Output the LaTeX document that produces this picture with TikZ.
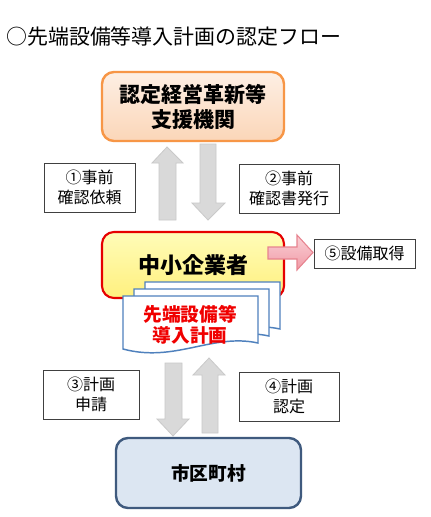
\documentclass[tikz,border=0pt]{standalone}
\usepackage{fontspec}
\setmainfont{Noto Sans CJK JP}
\definecolor{orB}{HTML}{F79646}
\definecolor{orT}{HTML}{FDEFE4}
\definecolor{orD}{HTML}{FBD6B8}
\definecolor{rdB}{HTML}{E60000}
\definecolor{ywT}{HTML}{FFFCB8}
\definecolor{ywD}{HTML}{FFF07E}
\definecolor{dcB}{HTML}{4F81BD}
\definecolor{ctB}{HTML}{3F5A7E}
\definecolor{ctF}{HTML}{DCE6F2}
\definecolor{arF}{HTML}{D9D9D9}
\definecolor{arB}{HTML}{C9C9C9}
\definecolor{pkT}{HTML}{FAD0D6}
\definecolor{pkD}{HTML}{F09AA6}
\definecolor{pkB}{HTML}{E7838F}
\definecolor{lbB}{HTML}{404040}
\definecolor{txR}{HTML}{F00000}
\begin{document}
\begin{tikzpicture}[x=0.75pt,y=-0.75pt,
  bigbox/.style={rounded corners=9pt,inner sep=0pt,align=center,font=\bfseries\fontsize{15.75}{18.75}\selectfont},
  lbl/.style={draw=lbB,line width=0.75pt,fill=white,inner sep=0pt,align=center,font=\fontsize{12}{15}\selectfont},
  grayarrow/.style={fill=arF,draw=arB,line width=0.6pt},
  docpage/.style={fill=white,draw=dcB,line width=1.1pt}]
\useasboundingbox (0,0) rectangle (430,517);
\fill[white] (0,0) rectangle (430,517);
% title
\node[anchor=west,inner sep=0pt,font=\fontsize{15.7}{18}\selectfont] (title) at (6,37) {○先端設備等導入計画の認定フロー};
% gray arrows upper
\draw[grayarrow] (167,147) -- (183,163) -- (176,163) -- (176,220) -- (159,220) -- (159,163) -- (152,163) -- cycle;
\draw[grayarrow] (208,220) -- (225,203) -- (216,203) -- (216,144) -- (200,144) -- (200,203) -- (192,203) -- cycle;
% gray arrows lower
\draw[grayarrow] (173,436) -- (189,419) -- (182,419) -- (182,363) -- (165,363) -- (165,419) -- (157,419) -- cycle;
\draw[grayarrow] (209,358) -- (225,375) -- (218,375) -- (218,433) -- (202,433) -- (202,375) -- (193,375) -- cycle;
% top box
\node[bigbox,draw=orB,line width=1.8pt,top color=orT,bottom color=orD,minimum width=136.5pt,minimum height=51.75pt] (shien) at (193,106.5) {認定経営革新等\\支援機関};
% labels
\node[lbl,minimum width=68.25pt,minimum height=36.75pt] (l1) at (89.5,187.5) {①事前\\確認依頼};
\node[lbl,minimum width=75pt,minimum height=36.75pt] (l2) at (289,188.5) {②事前\\確認書発行};
\node[lbl,minimum width=72pt,minimum height=36.75pt] (l3) at (91,394.5) {③計画\\申請};
\node[lbl,minimum width=75pt,minimum height=36.75pt] (l4) at (289,396.5) {④計画\\認定};
\node[lbl,minimum width=75.75pt,minimum height=21.75pt] (l5) at (364.5,253.5) {⑤設備取得};
% middle box
\node[bigbox,draw=rdB,line width=1.6pt,top color=ywT,bottom color=ywD,minimum width=136.5pt,minimum height=49.5pt,font=\bfseries\fontsize{16.5}{18}\selectfont] (kigyo) at (193,265) {};
\node[inner sep=0pt,font=\bfseries\fontsize{16.5}{18}\selectfont] (kigyot) at (193,265) {中小企業者};
% pink arrow
\draw[pkB,line width=0.8pt,top color=pkT,bottom color=pkD] (268,247) -- (297,247) -- (297,235) -- (313,252.5) -- (297,270) -- (297,259) -- (268,259) -- cycle;
% documents
\foreach \dx/\dy in {22/-14,11/-7,0/0}{
  \draw[docpage,shift={(\dx,\dy)}] (123,296) -- (258,296) -- (258,343)
     .. controls (212,333) and (175,363) .. (123,349) -- cycle;
}
\node[inner sep=0pt,align=center,text=txR,font=\bfseries\fontsize{14}{15.75}\selectfont] (plan) at (190,324.5) {先端設備等\\導入計画};
% bottom box
\node[bigbox,draw=ctB,line width=1.8pt,fill=ctF,minimum width=138.75pt,minimum height=52.5pt,font=\bfseries\fontsize{14}{16}\selectfont] (city) at (208.5,473) {市区町村};
\end{tikzpicture}
\end{document}
